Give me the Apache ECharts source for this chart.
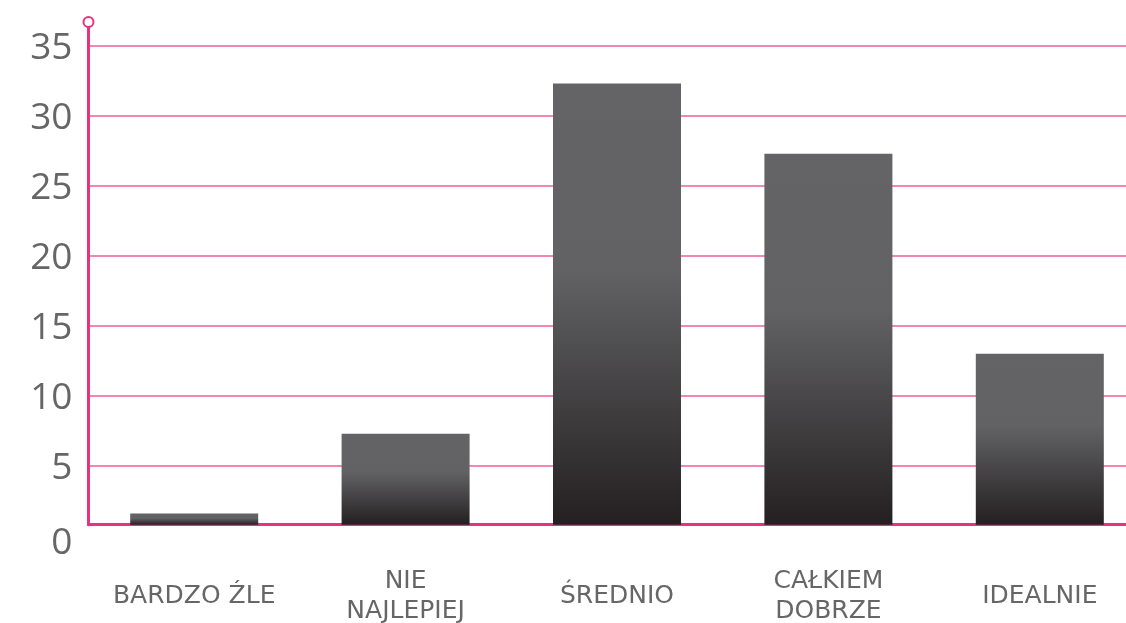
<!DOCTYPE html>
<html>
<head>
<meta charset="utf-8">
<script src="https://cdn.jsdelivr.net/npm/echarts@6/dist/echarts.min.js"></script>
<style>
  html, body { margin: 0; padding: 0; background: #ffffff; overflow: hidden; }
  #chart { position: absolute; left: 0; top: 0; width: 1126px; height: 623px; }
</style>
</head>
<body>
<div id="chart"></div>
<script>
// Survey answers and their scores
var categories = ['BARDZO ŹLE', 'NIE\nNAJLEPIEJ', 'ŚREDNIO', 'CAŁKIEM\nDOBRZE', 'IDEALNIE'];
var values = [1.6, 7.3, 32.3, 27.3, 13.0];

// Value range shown on the vertical axis (baseline sits slightly above zero)
var axisMin = 0.8;
var axisMax = 36.7;
var tickStep = 5;
var tickTop = 35;

var PINK_AXIS = '#e8327d';
var PINK_GRID = '#ef5d98';
var TEXT = '#666666';
var FONT_Y = '"Open Sans", "Noto Sans", sans-serif';
var FONT_X = '"DejaVu Sans", "Open Sans", sans-serif';

var chart = echarts.init(document.getElementById('chart'));

chart.setOption({
  animation: false,
  backgroundColor: '#ffffff',
  grid: {
    left: 88.5, right: -19.5, top: 22, bottom: 98.3,
    outerBoundsMode: 'none'
  },
  xAxis: {
    type: 'category',
    data: categories,
    boundaryGap: true,
    axisLine: { show: true, onZero: false, lineStyle: { color: PINK_AXIS, width: 3 } },
    axisTick: { show: false },
    axisLabel: {
      color: TEXT,
      fontFamily: FONT_X,
      fontSize: 25,
      lineHeight: 30,
      verticalAlign: 'middle',
      margin: 72,
      interval: 0
    },
    splitLine: { show: false }
  },
  yAxis: {
    type: 'value',
    min: axisMin,
    max: axisMax,
    splitNumber: 7,
    axisLine: {
      show: true,
      lineStyle: { color: PINK_AXIS, width: 3 },
      symbol: ['none', 'emptyCircle'],
      symbolSize: [10, 10]
    },
    axisTick: { show: false },
    axisLabel: {
      color: TEXT,
      fontFamily: FONT_Y,
      fontSize: 37,
      margin: 16,
      padding: [5, 0, 0, 0],
      showMinLabel: true,
      showMaxLabel: false,
      formatter: function (v) {
        if (v < tickStep) return '{z|0}';
        if (v > tickTop) return '';
        return String(Math.round(v));
      },
      rich: {
        z: { color: TEXT, fontFamily: FONT_Y, fontSize: 37, padding: [33, 0, 0, 0] }
      }
    },
    splitLine: {
      show: true,
      showMinLine: false,
      showMaxLine: false,
      lineStyle: { color: PINK_GRID, width: 1.5 }
    }
  },
  series: [{
    type: 'bar',
    data: values,
    barWidth: 128,
    itemStyle: {
      color: new echarts.graphic.LinearGradient(0, 0, 0, 1, [
        { offset: 0, color: '#646466' },
        { offset: 0.42, color: '#626264' },
        { offset: 1, color: '#242021' }
      ])
    }
  }]
});
</script>
</body>
</html>
